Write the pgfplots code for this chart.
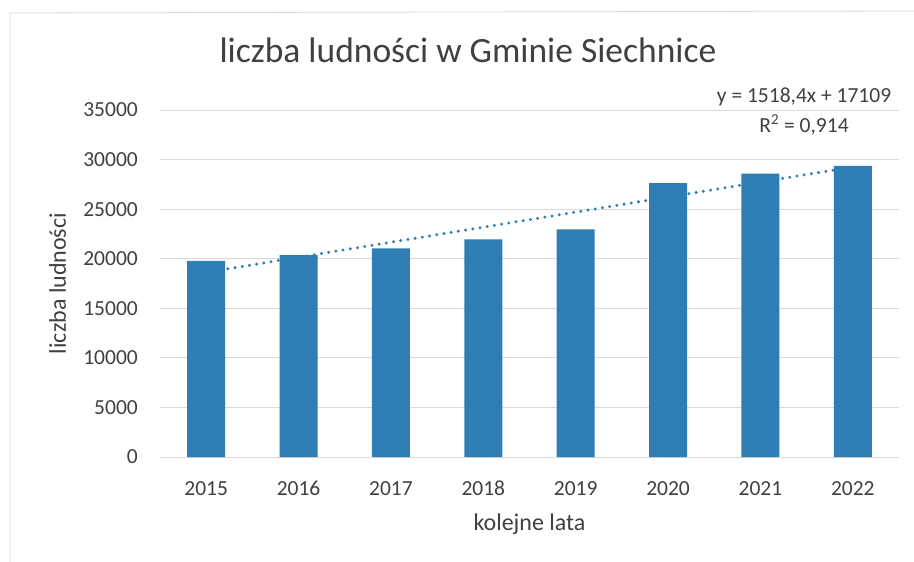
\documentclass[border=0pt]{standalone}
\usepackage{fontspec}
\setmainfont{Carlito}
\usepackage{pgfplots}
\pgfplotsset{compat=1.18}
\definecolor{barblue}{HTML}{2E7DB5}
\definecolor{txt}{HTML}{404040}
\definecolor{gridc}{HTML}{D9D9D9}
\begin{document}
\begin{tikzpicture}
\path[use as bounding box] (-160bp,-105bp) rectangle (754bp,457bp);
\draw[gridc, line width=0.8bp] (-150bp,-105bp) -- (-150bp,444bp) -- (754bp,446bp);
\begin{axis}[
  at={(0,0)}, anchor=south west, scale only axis,
  width=739bp, height=347bp, clip=false,
  xmin=-0.5, xmax=7.5, ymin=0, ymax=35000,
  xtick={0,...,7}, xticklabels={2015,2016,2017,2018,2019,2020,2021,2022},
  ytick={0,5000,...,35000},
  ymajorgrids, grid style={gridc, line width=0.8bp},
  axis line style={draw=none}, major tick length=0pt,
  /pgf/number format/assume math mode=true,
  /pgf/number format/set thousands separator={},
  scaled y ticks=false,
  tick label style={font=\fontsize{21.5bp}{24bp}\selectfont, text=txt, inner sep=0pt},
  yticklabel style={anchor=east, xshift=-22bp},
  xticklabel style={anchor=base, yshift=-38bp},
  xlabel={kolejne lata}, ylabel={liczba ludności},
  label style={font=\fontsize{24bp}{28bp}\selectfont, text=txt, inner sep=0pt},
  xlabel style={at={(axis description cs:0.5,0)}, anchor=base, yshift=-73bp},
  ylabel style={at={([xshift=-94bp]axis description cs:0,0.5)}, anchor=base},
  title={liczba ludności w Gminie Siechnice},
  title style={at={(axis description cs:0.4168,1)}, anchor=base, yshift=42bp,
    font=\fontsize{35.5bp}{40bp}\selectfont, text=txt, inner sep=0pt},
]
\addplot[barblue, line width=3.3bp, dash pattern=on 0pt off 7.3bp, line cap=round]
  coordinates {(0,18627.4) (7,29256.2)};
\addplot[ybar, bar width=38bp, fill=barblue, draw=none]
  coordinates {(0,19770) (1,20370) (2,21040) (3,21940) (4,22950) (5,27620) (6,28590) (7,29360)};
\node[anchor=base, font=\fontsize{21.5bp}{24bp}\selectfont, text=txt, inner sep=0pt]
  at (axis description cs:0.8715,1.0202) {y = 1518,4x + 17109};
\node[anchor=base, font=\fontsize{21.5bp}{24bp}\selectfont, text=txt, inner sep=0pt]
  at (axis description cs:0.8715,0.9366) {R\textsuperscript{2} = 0,914};
\end{axis}
\end{tikzpicture}
\end{document}
